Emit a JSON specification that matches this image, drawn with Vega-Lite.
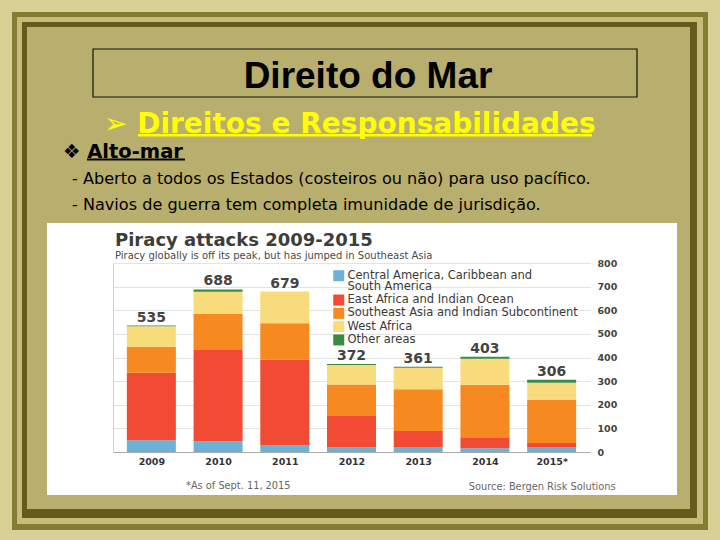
{
  "$schema": "https://vega.github.io/schema/vega-lite/v6.json",
  "padding": 0,
  "background": "#d3ca8c",
  "spacing": 0,
  "bounds": "flush",
  "resolve": {"scale": {"color": "independent"}, "legend": {"color": "independent"}},
  "config": {"view": {"stroke": null}, "style": {"guide-label": {"lineHeight": 11.5}}},
  "datasets": {
    "piracy": [
      {"year": 2009, "region": "Central America, Caribbean and South America", "attacks": 50},
      {"year": 2009, "region": "East Africa and Indian Ocean", "attacks": 285},
      {"year": 2009, "region": "Southeast Asia and Indian Subcontinent", "attacks": 111},
      {"year": 2009, "region": "West Africa", "attacks": 86},
      {"year": 2009, "region": "Other areas", "attacks": 3},
      {"year": 2010, "region": "Central America, Caribbean and South America", "attacks": 45},
      {"year": 2010, "region": "East Africa and Indian Ocean", "attacks": 387},
      {"year": 2010, "region": "Southeast Asia and Indian Subcontinent", "attacks": 153},
      {"year": 2010, "region": "West Africa", "attacks": 93},
      {"year": 2010, "region": "Other areas", "attacks": 10},
      {"year": 2011, "region": "Central America, Caribbean and South America", "attacks": 28},
      {"year": 2011, "region": "East Africa and Indian Ocean", "attacks": 363},
      {"year": 2011, "region": "Southeast Asia and Indian Subcontinent", "attacks": 154},
      {"year": 2011, "region": "West Africa", "attacks": 134},
      {"year": 2011, "region": "Other areas", "attacks": 0},
      {"year": 2012, "region": "Central America, Caribbean and South America", "attacks": 19},
      {"year": 2012, "region": "East Africa and Indian Ocean", "attacks": 133},
      {"year": 2012, "region": "Southeast Asia and Indian Subcontinent", "attacks": 134},
      {"year": 2012, "region": "West Africa", "attacks": 82},
      {"year": 2012, "region": "Other areas", "attacks": 4},
      {"year": 2013, "region": "Central America, Caribbean and South America", "attacks": 21},
      {"year": 2013, "region": "East Africa and Indian Ocean", "attacks": 68},
      {"year": 2013, "region": "Southeast Asia and Indian Subcontinent", "attacks": 177},
      {"year": 2013, "region": "West Africa", "attacks": 91},
      {"year": 2013, "region": "Other areas", "attacks": 4},
      {"year": 2014, "region": "Central America, Caribbean and South America", "attacks": 16},
      {"year": 2014, "region": "East Africa and Indian Ocean", "attacks": 43},
      {"year": 2014, "region": "Southeast Asia and Indian Subcontinent", "attacks": 226},
      {"year": 2014, "region": "West Africa", "attacks": 110},
      {"year": 2014, "region": "Other areas", "attacks": 8},
      {"year": 2015, "region": "Central America, Caribbean and South America", "attacks": 19},
      {"year": 2015, "region": "East Africa and Indian Ocean", "attacks": 19},
      {"year": 2015, "region": "Southeast Asia and Indian Subcontinent", "attacks": 183},
      {"year": 2015, "region": "West Africa", "attacks": 72},
      {"year": 2015, "region": "Other areas", "attacks": 13}
    ]
  },
  "vconcat": [
    {
      "width": 477,
      "height": 1,
      "data": {"values": [{}]},
      "layer": [
        {"mark": {"type": "rect", "color": "#d8cf94"},
         "encoding": {
           "x": {"datum": 2006.841866, "type": "quantitative", "scale": {"domain": [2008.5, 2015.5], "nice": false, "zero": false}, "axis": null},
           "x2": {"datum": 2017.40761},
           "y": {"datum": 406.3069, "type": "quantitative", "scale": {"domain": [0, 4.232804], "nice": false, "zero": false}, "axis": null},
           "y2": {"datum": -1879.323}}},
        {"mark": {"type": "rect", "color": "#857b33"},
         "encoding": {
           "x": {"datum": 2007.01782, "type": "quantitative", "scale": {"domain": [2008.5, 2015.5], "nice": false, "zero": false}, "axis": null},
           "x2": {"datum": 2017.231656},
           "y": {"datum": 355.5555, "type": "quantitative", "scale": {"domain": [0, 4.232804], "nice": false, "zero": false}, "axis": null},
           "y2": {"datum": -1837.037}}},
        {"mark": {"type": "rect", "color": "#c6bc7b"},
         "encoding": {
           "x": {"datum": 2007.091195, "type": "quantitative", "scale": {"domain": [2008.5, 2015.5], "nice": false, "zero": false}, "axis": null},
           "x2": {"datum": 2017.158281},
           "y": {"datum": 334.3915, "type": "quantitative", "scale": {"domain": [0, 4.232804], "nice": false, "zero": false}, "axis": null},
           "y2": {"datum": -1811.64}}},
        {"mark": {"type": "rect", "color": "#655b1c"},
         "encoding": {
           "x": {"datum": 2007.16457, "type": "quantitative", "scale": {"domain": [2008.5, 2015.5], "nice": false, "zero": false}, "axis": null},
           "x2": {"datum": 2017.070231},
           "y": {"datum": 313.2275, "type": "quantitative", "scale": {"domain": [0, 4.232804], "nice": false, "zero": false}, "axis": null},
           "y2": {"datum": -1786.243}}},
        {"mark": {"type": "rect", "color": "#b8ae6e"},
         "encoding": {
           "x": {"datum": 2007.237945, "type": "quantitative", "scale": {"domain": [2008.5, 2015.5], "nice": false, "zero": false}, "axis": null},
           "x2": {"datum": 2016.967505},
           "y": {"datum": 292.0635, "type": "quantitative", "scale": {"domain": [0, 4.232804], "nice": false, "zero": false}, "axis": null},
           "y2": {"datum": -1748.148}}},
        {"mark": {"type": "rect", "color": "#ffffff"},
         "encoding": {
           "x": {"datum": 2007.531447, "type": "quantitative", "scale": {"domain": [2008.5, 2015.5], "nice": false, "zero": false}, "axis": null},
           "x2": {"datum": 2016.77673},
           "y": {"datum": -537.566, "type": "quantitative", "scale": {"domain": [0, 4.232804], "nice": false, "zero": false}, "axis": null},
           "y2": {"datum": -1688.889}}},
        {"mark": {"type": "rect", "fillOpacity": 0, "stroke": "#111111", "strokeWidth": 1.2},
         "encoding": {
           "x": {"datum": 2008.206499, "type": "quantitative", "scale": {"domain": [2008.5, 2015.5], "nice": false, "zero": false}, "axis": null},
           "x2": {"datum": 2016.189727},
           "y": {"datum": 198.9418, "type": "quantitative", "scale": {"domain": [0, 4.232804], "nice": false, "zero": false}, "axis": null},
           "y2": {"datum": -4.2328}}},
        {"mark": {"type": "rect", "color": "#ffff00"},
         "encoding": {
           "x": {"datum": 2008.866876, "type": "quantitative", "scale": {"domain": [2008.5, 2015.5], "nice": false, "zero": false}, "axis": null},
           "x2": {"datum": 2015.52935},
           "y": {"datum": -160.8466, "type": "quantitative", "scale": {"domain": [0, 4.232804], "nice": false, "zero": false}, "axis": null},
           "y2": {"datum": -171.4286}}},
        {"mark": {"type": "rect", "color": "#000000"},
         "encoding": {
           "x": {"datum": 2008.118449, "type": "quantitative", "scale": {"domain": [2008.5, 2015.5], "nice": false, "zero": false}, "axis": null},
           "x2": {"datum": 2009.556604},
           "y": {"datum": -264.5503, "type": "quantitative", "scale": {"domain": [0, 4.232804], "nice": false, "zero": false}, "axis": null},
           "y2": {"datum": -273.0159}}}
      ]
    },
    {
      "width": 477, "height": 43,
      "data": {"values": [{}]},
      "mark": {"type": "point", "opacity": 0, "size": 0},
      "title": {"text": "Direito do Mar", "anchor": "middle", "frame": "group", "dx": 16.5, "offset": 0,
                "font": "Liberation Sans", "fontSize": 37, "fontWeight": "bold", "color": "#000000"}
    },
    {
      "width": 477, "height": 25,
      "data": {"values": [{}]},
      "mark": {"type": "point", "opacity": 0, "size": 0},
      "title": {"text": "➢ Direitos e Responsabilidades", "anchor": "start", "frame": "group", "dx": -9, "offset": 0,
                "font": "DejaVu Sans", "fontSize": 28, "fontWeight": "bold", "color": "#ffff00"}
    },
    {
      "width": 477, "height": 49,
      "data": {"values": [{}]},
      "mark": {"type": "point", "opacity": 0, "size": 0},
      "title": {"text": "❖ Alto-mar", "anchor": "start", "frame": "group", "dx": -50, "offset": 2,
                "font": "DejaVu Sans", "fontSize": 19.5, "fontWeight": "bold", "color": "#000000"}
    },
    {
      "width": 477, "height": 48,
      "data": {"values": [{}]},
      "mark": {"type": "point", "opacity": 0, "size": 0},
      "title": {"text": ["- Aberto a todos os Estados (costeiros ou não) para uso pacífico.", "- Navios de guerra tem completa imunidade de jurisdição."],
                "anchor": "start", "frame": "group", "dx": -41, "offset": 0, "lineHeight": 26,
                "font": "DejaVu Sans", "fontSize": 16.1, "fontWeight": "normal", "color": "#000000"}
    },
    {
      "width": 477, "height": 2,
      "data": {"values": [{}]},
      "mark": {"type": "point", "opacity": 0, "size": 0},
      "title": {"text": "Piracy attacks 2009-2015", "subtitle": "Piracy globally is off its peak, but has jumped in Southeast Asia",
                "anchor": "start", "frame": "group", "dx": 2, "offset": 0,
                "font": "DejaVu Sans", "fontSize": 18, "fontWeight": "bold", "color": "#3d3d3d",
                "subtitleFont": "DejaVu Sans", "subtitleFontSize": 10, "subtitleColor": "#4a4a4a", "subtitlePadding": 1}
    },
    {
      "width": 477,
      "height": 189,
      "layer": [
        {
          "data": {"name": "piracy"},
          "transform": [
            {"calculate": "indexof(['Central America, Caribbean and South America', 'East Africa and Indian Ocean', 'Southeast Asia and Indian Subcontinent', 'West Africa', 'Other areas'], datum.region)", "as": "stack_order"}
          ],
          "mark": {"type": "bar", "size": 49},
          "encoding": {
            "x": {"field": "year", "type": "quantitative",
                  "scale": {"domain": [2008.5, 2015.5], "nice": false, "zero": false},
                  "axis": {"orient": "bottom", "values": [2009, 2010, 2011, 2012, 2013, 2014, 2015], "format": "d",
                           "labelExpr": "datum.value == 2015 ? '2015*' : datum.label",
                           "ticks": false, "grid": false, "domain": true, "domainColor": "#a8a8a8", "labelFlush": false,
                           "labelFont": "DejaVu Sans", "labelFontWeight": "bold", "labelFontSize": 9.5, "labelColor": "#333333", "labelPadding": 4,
                           "title": "Source: Bergen Risk Solutions", "titleFont": "DejaVu Sans", "titleFontSize": 9.8, "titleFontWeight": "normal",
                           "titleColor": "#666666", "titleX": 502, "titleY": 37, "titleAlign": "right", "titleBaseline": "alphabetic"}},
            "y": {"field": "attacks", "type": "quantitative", "stack": "zero",
                  "scale": {"domain": [0, 800], "nice": false},
                  "axis": {"orient": "right", "values": [0, 100, 200, 300, 400, 500, 600, 700, 800], "grid": true, "gridColor": "#e3e3e3",
                           "domain": false, "ticks": false, "labelPadding": 7, "labelFont": "DejaVu Sans", "labelFontWeight": "bold",
                           "labelFontSize": 9.5, "labelColor": "#444444", "title": null}},
            "color": {"field": "region", "type": "nominal",
                      "scale": {"domain": ["Central America, Caribbean and South America", "East Africa and Indian Ocean", "Southeast Asia and Indian Subcontinent", "West Africa", "Other areas"],
                                "range": ["#6cb2d5", "#f14b36", "#f6891f", "#f8dc7b", "#3a8a42"]},
                      "legend": {"orient": "none", "legendX": 220, "legendY": 7, "title": null, "padding": 0,
                                 "symbolType": "square", "symbolSize": 121, "symbolStrokeWidth": 0, "symbolOpacity": 1,
                                 "labelFont": "DejaVu Sans", "labelFontSize": 11.5, "labelColor": "#3a3a3a", "labelLimit": 400,
                                 "rowPadding": 0.3, "labelOffset": 3,
                                 "labelExpr": "datum.label == 'Central America, Caribbean and South America' ? ['Central America, Caribbean and', 'South America'] : datum.label"}},
            "order": {"field": "stack_order", "type": "quantitative"}
          }
        },
        {
          "data": {"name": "piracy"},
          "transform": [{"aggregate": [{"op": "sum", "field": "attacks", "as": "total"}], "groupby": ["year"]}],
          "mark": {"type": "text", "baseline": "alphabetic", "dy": -4, "font": "DejaVu Sans", "fontWeight": "bold", "fontSize": 14, "color": "#444444"},
          "encoding": {
            "x": {"field": "year", "type": "quantitative", "scale": {"domain": [2008.5, 2015.5], "nice": false, "zero": false}, "axis": null},
            "y": {"field": "total", "type": "quantitative", "scale": {"domain": [0, 800], "nice": false},
                  "axis": {"orient": "left", "labels": false, "ticks": false, "grid": false, "domain": true, "domainColor": "#d4d4d4", "title": null}},
            "text": {"field": "total", "type": "quantitative"}
          }
        }
      ],
      "resolve": {"axis": {"x": "independent", "y": "independent"}}
    },
    {
      "width": 477, "height": 1,
      "data": {"values": [{}]},
      "mark": {"type": "point", "opacity": 0, "size": 0},
      "title": {"text": "*As of Sept. 11, 2015", "anchor": "start", "frame": "group", "dx": 73, "offset": -38.8,
                "font": "DejaVu Sans", "fontSize": 9.8, "fontWeight": "normal", "color": "#666666"}
    }
  ]
}
